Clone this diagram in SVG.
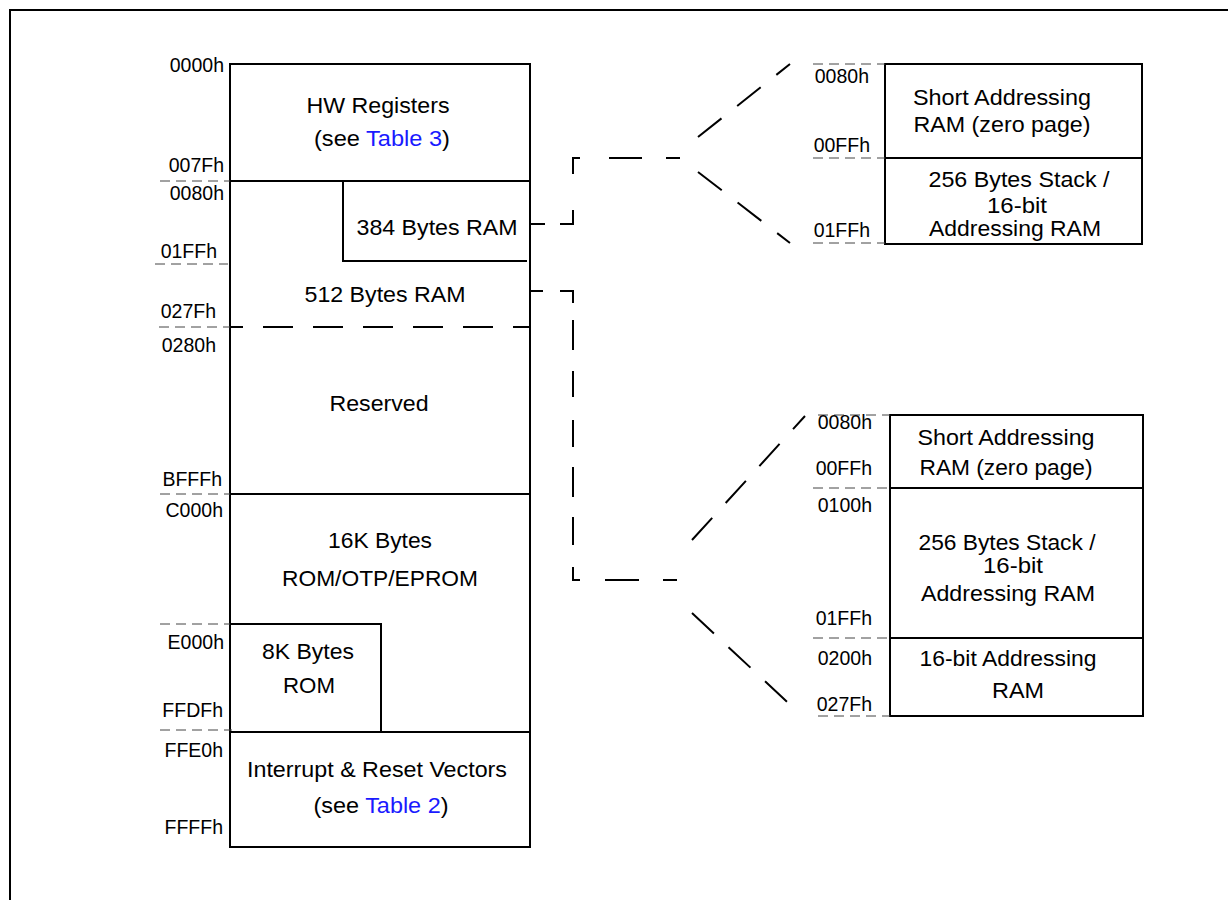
<svg xmlns="http://www.w3.org/2000/svg" width="1228" height="900" viewBox="0 0 1228 900">
<style>
.box{fill:none;stroke:#000;stroke-width:2}
.tick{fill:none;stroke:#444;stroke-width:1;stroke-dasharray:10,6}
.conn{fill:none;stroke:#000;stroke-width:2;stroke-dasharray:30,20}
.t{font-family:"Liberation Sans",Arial,sans-serif;font-size:22px;fill:#000;text-anchor:middle}
.a{font-family:"Liberation Sans",Arial,sans-serif;font-size:19.5px;fill:#000;text-anchor:end}
.lnk{fill:#1a1aff}
</style>
<rect width="1228" height="900" fill="#fff"/>
<path d="M10,900 V10 H1228" fill="none" stroke="#000" stroke-width="2"/>

<g id="memory-map">
  <rect class="box" x="230" y="64" width="300" height="783"/>
  <path class="box" d="M230,181 H530"/>
  <path class="box" d="M230,494 H530"/>
  <path class="box" d="M230,732 H530"/>
  <path class="conn" d="M230,327 H530" stroke-dashoffset="17"/>
  <path class="tick" d="M160,181 H230 M155,264 H228 M159,327 H230 M160,494 H230 M160,624 H230 M160,730 H232"/>
</g>

<g id="hw-registers">
  <text class="t" x="378" y="113" textLength="143" lengthAdjust="spacingAndGlyphs">HW Registers</text>
  <text class="t" x="382" y="146" textLength="136" lengthAdjust="spacingAndGlyphs">(see <tspan class="lnk">Table 3</tspan>)</text>
  <text class="a" x="224" y="72">0000h</text>
  <text class="a" x="224" y="172">007Fh</text>
</g>

<g id="ram-384">
  <path class="box" d="M343,181 V261 H527"/>
  <text class="t" x="437" y="235" textLength="161" lengthAdjust="spacingAndGlyphs">384 Bytes RAM</text>
  <text class="a" x="224" y="200">0080h</text>
  <text class="a" x="217" y="258">01FFh</text>
</g>

<g id="ram-512">
  <text class="t" x="385" y="302" textLength="161" lengthAdjust="spacingAndGlyphs">512 Bytes RAM</text>
  <text class="a" x="216" y="318">027Fh</text>
</g>

<g id="reserved">
  <text class="t" x="379" y="411" textLength="99" lengthAdjust="spacingAndGlyphs">Reserved</text>
  <text class="a" x="216" y="352">0280h</text>
  <text class="a" x="222" y="486">BFFFh</text>
</g>

<g id="rom-16k">
  <text class="t" x="380" y="548" textLength="104" lengthAdjust="spacingAndGlyphs">16K Bytes</text>
  <text class="t" x="380" y="586" textLength="196" lengthAdjust="spacingAndGlyphs">ROM/OTP/EPROM</text>
  <text class="a" x="223" y="517">C000h</text>
</g>

<g id="rom-8k">
  <path class="box" d="M230,624 H381 V732"/>
  <text class="t" x="308" y="659" textLength="92" lengthAdjust="spacingAndGlyphs">8K Bytes</text>
  <text class="t" x="309" y="693" textLength="52" lengthAdjust="spacingAndGlyphs">ROM</text>
  <text class="a" x="224" y="649">E000h</text>
  <text class="a" x="223" y="717">FFDFh</text>
</g>

<g id="vectors">
  <text class="t" x="377" y="777" textLength="260" lengthAdjust="spacingAndGlyphs">Interrupt &amp; Reset Vectors</text>
  <text class="t" x="381" y="813" textLength="135" lengthAdjust="spacingAndGlyphs">(see <tspan class="lnk">Table 2</tspan>)</text>
  <text class="a" x="223" y="757">FFE0h</text>
  <text class="a" x="223" y="834">FFFFh</text>
</g>

<g id="detail-384">
  <rect class="box" x="885" y="64" width="257" height="180"/>
  <path class="box" d="M885,158 H1142"/>
  <path class="tick" d="M813,64 H885 M813,158 H885 M813,243 H885"/>
  <text class="a" x="869" y="83">0080h</text>
  <text class="a" x="870" y="152">00FFh</text>
  <text class="a" x="870" y="237">01FFh</text>
  <text class="t" x="1002" y="105" textLength="178" lengthAdjust="spacingAndGlyphs">Short Addressing</text>
  <text class="t" x="1002" y="132" textLength="177" lengthAdjust="spacingAndGlyphs">RAM (zero page)</text>
  <text class="t" x="1019" y="187" textLength="181" lengthAdjust="spacingAndGlyphs">256 Bytes Stack /</text>
  <text class="t" x="1017" y="213" textLength="60" lengthAdjust="spacingAndGlyphs">16-bit</text>
  <text class="t" x="1015" y="236" textLength="172" lengthAdjust="spacingAndGlyphs">Addressing RAM</text>
</g>

<g id="detail-512">
  <rect class="box" x="890" y="415" width="253" height="301"/>
  <path class="box" d="M890,488 H1143 M890,638 H1143"/>
  <path class="tick" d="M818,415 H890 M813,488 H890 M813,638 H890 M818,716 H890"/>
  <text class="a" x="872" y="429">0080h</text>
  <text class="a" x="872" y="475">00FFh</text>
  <text class="a" x="872" y="512">0100h</text>
  <text class="a" x="872" y="625">01FFh</text>
  <text class="a" x="872" y="665">0200h</text>
  <text class="a" x="872" y="711">027Fh</text>
  <text class="t" x="1006" y="445" textLength="177" lengthAdjust="spacingAndGlyphs">Short Addressing</text>
  <text class="t" x="1006" y="475" textLength="173" lengthAdjust="spacingAndGlyphs">RAM (zero page)</text>
  <text class="t" x="1007" y="550" textLength="177" lengthAdjust="spacingAndGlyphs">256 Bytes Stack /</text>
  <text class="t" x="1013" y="573" textLength="60" lengthAdjust="spacingAndGlyphs">16-bit</text>
  <text class="t" x="1008" y="601" textLength="174" lengthAdjust="spacingAndGlyphs">Addressing RAM</text>
  <text class="t" x="1008" y="666" textLength="177" lengthAdjust="spacingAndGlyphs">16-bit Addressing</text>
  <text class="t" x="1018" y="698" textLength="52" lengthAdjust="spacingAndGlyphs">RAM</text>
</g>

<g id="connectors">
  <path class="conn" d="M530,224 H573 V158 H683" style="stroke-dasharray:15,15,27,36,23,29,33,24,14"/>
  <path class="conn" d="M698,137 L790,64"/>
  <path class="conn" d="M698,172 L790,243"/>
  <path class="conn" d="M530,291 H573 V580 H684" style="stroke-dasharray:13,17,25,17,30,21,26,23,27,20,30,20,28,22,20,25,34,24,14"/>
  <path class="conn" d="M692,540 L805,416"/>
  <path class="conn" d="M692,613 L800,714"/>
</g>
</svg>
